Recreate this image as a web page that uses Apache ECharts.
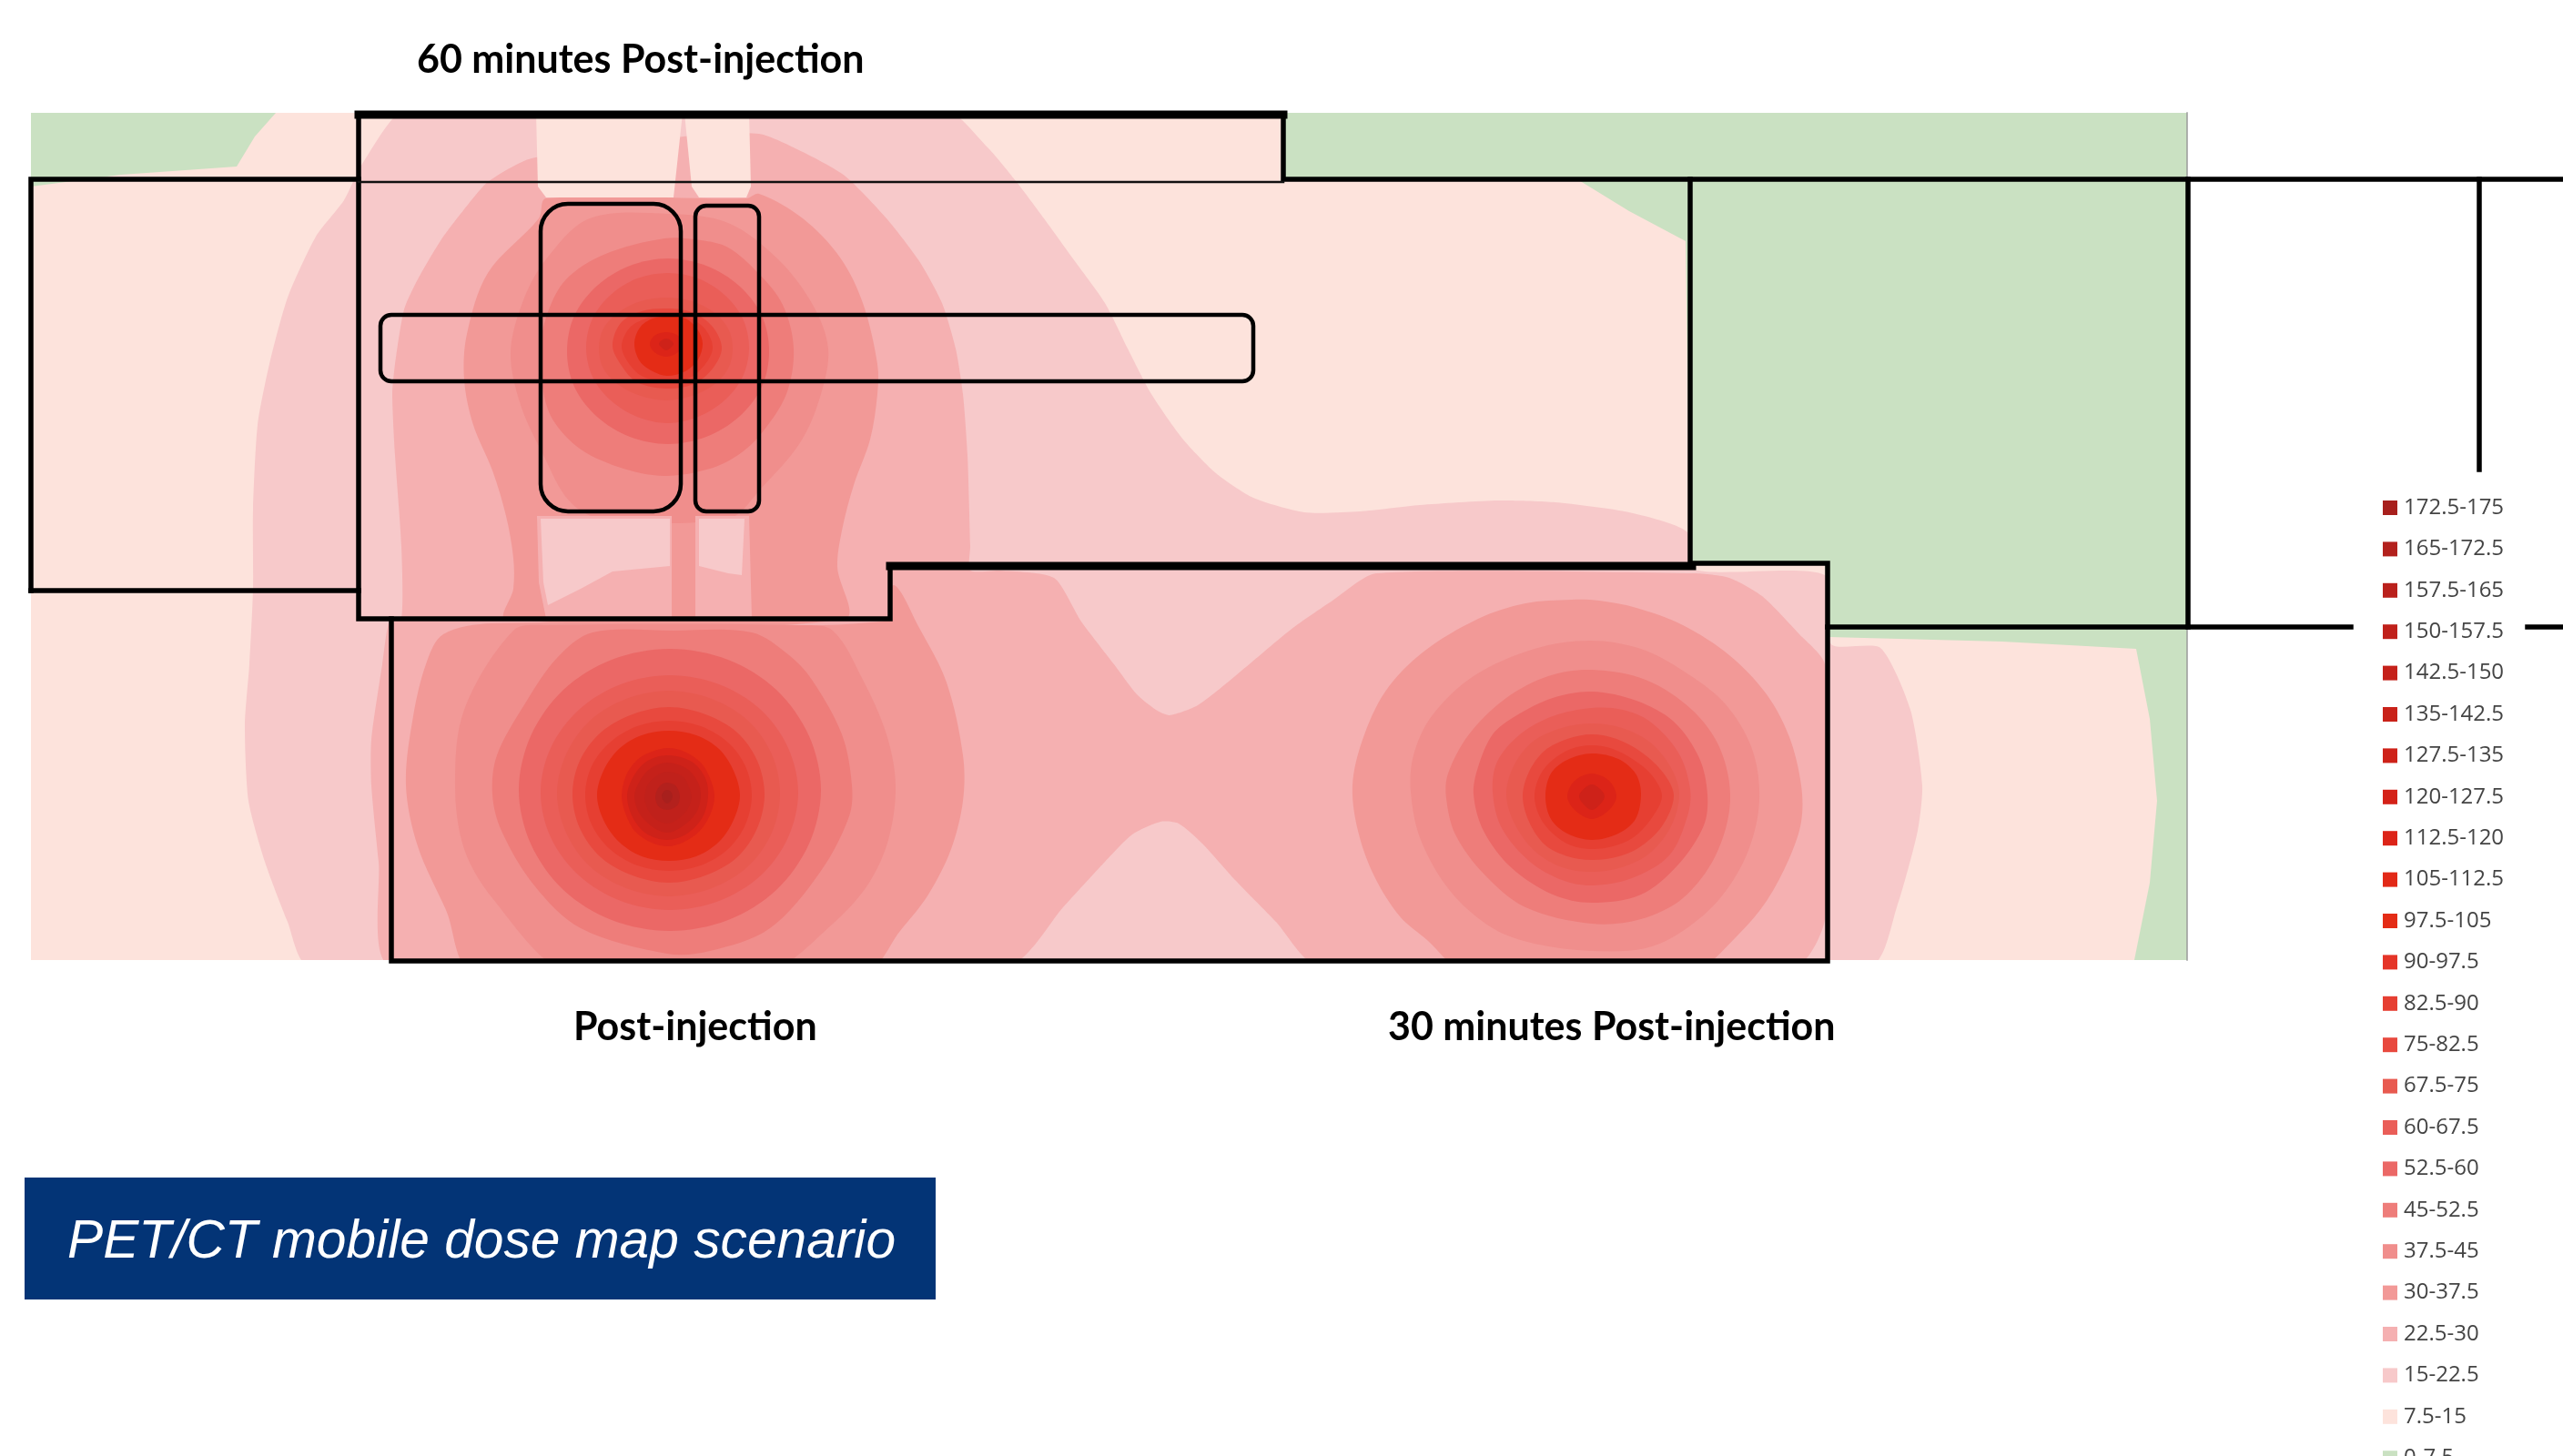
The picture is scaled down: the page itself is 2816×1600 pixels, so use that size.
<!DOCTYPE html>
<html><head><meta charset="utf-8">
<style>html,body{margin:0;padding:0;background:#fff}#c{width:2816px;height:1600px}</style>
<script src="https://cdn.jsdelivr.net/npm/echarts@6/dist/echarts.min.js"></script>
</head><body><div id="c"></div>
<script>
// Dose bands, lowest to highest (legend lists them highest first)
const bandLabels = ['0-7.5','7.5-15','15-22.5','22.5-30','30-37.5','37.5-45','45-52.5','52.5-60','60-67.5','67.5-75','75-82.5','82.5-90','90-97.5','97.5-105','105-112.5','112.5-120','120-127.5','127.5-135','135-142.5','142.5-150','150-157.5','157.5-165','165-172.5','172.5-175'];
const bandColors = ['#CAE1C2','#FDE3DC','#F7C9CA','#F5B0B1','#F29997','#F08E8C','#EE7D7A','#EB6866','#EA5E58','#E85A50','#E8493E','#E63F32','#E53528','#E42C16','#E22917','#DC2418','#D42218','#CE2219','#C92219','#C5211A','#C0211B','#BA211C','#B3211D','#A8201D'];

// Contour outlines, per band, in map units
const mapExtent = [[34,124],[2403,1055]];
const band0 = [[[34,124],[2403,124],[2403,1055],[34,1055]]];
const band1 = [[[303,124],[1412,124],[1412,197],[1733,197],[1790,232],[1852,265],[1857,620],[2005,620],[2010,700],[2200,705],[2347,713],[2362,790],[2370,880],[2362,970],[2345,1055],[34,1055],[34,205],[133,192],[260,183],[280,150]]];
const band2 = [[[449,118],[398,180],[378,220],[347,260],[316,327],[296,400],[283,467],[278,560],[278,647],[274,730],[269,797],[273,880],[291,947],[316,1013],[338,1060],[2056,1060],[2084,997],[2107,913],[2112,863],[2099,780],[2066,712],[2012,708],[2005,632],[1862,626],[1853,584],[1790,563],[1709,552],[1646,550],[1560,555],[1494,562],[1433,563],[1377,547],[1336,520],[1300,483],[1265,433],[1239,383],[1214,333],[1178,283],[1147,240],[1117,200],[1086,163],[1035,118]]];
const band3 = [[[584,174],[536,200],[510,230],[485,263],[459,307],[444,340],[434,400],[431,433],[434,500],[441,600],[441,680],[428,682],[420,730],[408,813],[408,863],[416,947],[428,1060],[1110,1060],[1168,997],[1214,947],[1244,917],[1275,903],[1295,905],[1321,927],[1357,967],[1402,1013],[1446,1060],[1975,1060],[2005,1010],[2005,730],[1977,697],[1936,655],[1900,635],[1862,630],[1512,630],[1464,660],[1418,692],[1357,743],[1316,775],[1285,786],[1270,780],[1249,763],[1224,730],[1188,683],[1158,635],[1099,627],[1066,627],[1066,600],[1063,500],[1058,433],[1050,383],[1035,333],[1010,287],[974,240],[928,193],[882,167],[834,147],[751,150]]];
const band4 = [
 [[592,240],[536,300],[513,367],[510,417],[520,467],[541,517],[556,567],[564,613],[564,647],[556,680],[928,680],[920,623],[925,583],[938,533],[956,483],[964,433],[964,400],[948,333],[923,283],[882,240],[834,213],[820,218],[600,218]],
 [[487,697],[541,685],[969,683],[982,643],[1010,690],[1040,750],[1058,830],[1058,880],[1045,933],[1020,983],[989,1023],[950,1070],[740,1100],[520,1070],[490,1000],[459,930],[446,863],[454,787],[469,727]],
 [[1727,659],[1676,663],[1624,680],[1563,717],[1522,760],[1497,813],[1486,863],[1492,913],[1510,963],[1538,1007],[1568,1033],[1610,1070],[1740,1100],[1860,1070],[1910,1027],[1941,990],[1966,943],[1979,903],[1979,863],[1966,810],[1941,763],[1900,720],[1849,687],[1798,668],[1757,660]]
];
const band5 = [
 [[735,235],[800,245],[855,285],[893,335],[910,383],[902,433],[880,485],[836,537],[800,570],[660,570],[625,550],[597,500],[572,445],[561,387],[575,330],[600,285],[648,240]],
 [[564,693],[510,780],[500,863],[510,933],[541,987],[620,1070],[733,1095],[845,1070],[913,1017],[953,973],[976,923],[984,863],[974,807],[948,747],[915,693],[880,687],[600,687]],
 [[1747,704],[1686,713],[1619,743],[1573,787],[1553,830],[1550,870],[1561,923],[1594,980],[1640,1020],[1686,1037],[1749,1045],[1808,1042],[1849,1023],[1890,987],[1920,937],[1933,880],[1925,823],[1895,773],[1849,737],[1803,713]]
];
const band6 = [
 [[730,262],[770,264],[800,272],[833,300],[860,335],[872,383],[864,433],[836,477],[811,500],[780,515],[730,523],[679,513],[633,490],[602,450],[594,383],[602,343],[622,307],[663,280]],
 [[651,695],[612,723],[577,773],[546,830],[541,873],[551,913],[587,973],[638,1020],[733,1048],[780,1045],[846,1020],[902,957],[933,897],[936,863],[925,807],[892,747],[867,720],[826,695],[740,693]],
 [[1749,736],[1701,743],[1655,767],[1614,807],[1591,850],[1589,877],[1599,917],[1630,960],[1676,997],[1749,1015],[1803,1010],[1849,987],[1885,940],[1901,880],[1890,823],[1859,780],[1808,747]]
];
const band7 = [
 [[845,386],[837,425],[812,458],[776,480],[734,488],[692,480],[656,458],[631,425],[623,386],[631,347],[656,314],[692,292],[734,284],[776,292],[812,314],[837,347]],
 [[902,868],[889,927],[853,978],[800,1011],[736,1023],[672,1011],[619,978],[583,927],[570,868],[583,809],[619,758],[672,725],[736,713],[800,725],[853,758],[889,809]],
 [[1749,760],[1706,767],[1665,787],[1640,807],[1624,843],[1619,873],[1630,913],[1660,953],[1706,983],[1749,992],[1803,983],[1844,950],[1872,907],[1876,873],[1867,833],[1839,793],[1798,770]]
];
const band8 = [
 [[823,382],[816,414],[796,440],[767,458],[734,465],[700,458],[671,440],[651,414],[644,382],[651,350],[671,324],[700,306],[734,300],[767,306],[796,324],[816,350]],
 [[877,871],[866,920],[836,962],[790,990],[736,1000],[682,990],[636,962],[605,920],[594,871],[605,822],[636,780],[682,752],[736,742],[790,752],[836,780],[866,822]],
 [[1749,778],[1706,787],[1670,807],[1645,837],[1640,870],[1650,910],[1681,947],[1716,967],[1749,973],[1793,965],[1834,940],[1854,897],[1857,867],[1844,827],[1813,793],[1783,780]]
];
const band9 = [
 [[805,383],[800,405],[784,423],[760,435],[732,440],[704,435],[680,423],[663,405],[658,383],[663,361],[680,343],[704,331],[732,327],[760,331],[784,343],[800,361]],
 [[857,872],[848,915],[822,952],[782,976],[735,985],[688,976],[648,952],[622,915],[612,872],[622,829],[648,792],[688,768],[735,759],[782,768],[822,792],[848,829]],
 [[1845,872],[1836,908],[1812,938],[1782,953],[1749,958],[1716,953],[1686,935],[1664,905],[1655,873],[1663,842],[1684,815],[1716,800],[1749,795],[1782,800],[1812,815],[1835,842]]
];
const band10 = [
 [[793,382],[783,405],[762,422],[733,427],[700,420],[683,402],[673,380],[682,355],[705,342],[733,339],[760,343],[782,358]],
 [[840,873],[832,910],[810,942],[775,962],[735,970],[695,962],[660,942],[637,910],[629,873],[637,836],[660,805],[695,785],[735,777],[775,785],[810,805],[832,836]],
 [[1839,875],[1826,908],[1800,932],[1775,942],[1749,945],[1722,941],[1697,928],[1680,903],[1673,875],[1680,848],[1697,825],[1722,812],[1749,807],[1776,812],[1804,827],[1828,850]]
];
const band11 = [
 [[783,382],[775,400],[758,415],[733,420],[705,413],[690,398],[683,380],[692,360],[710,350],[733,345],[758,350],[775,362]],
 [[826,874],[819,906],[800,933],[770,951],[735,957],[700,951],[670,933],[650,906],[643,874],[650,842],[670,816],[700,798],[735,792],[770,798],[800,816],[819,842]],
 [[1826,875],[1814,900],[1795,920],[1772,930],[1749,933],[1726,929],[1706,916],[1692,898],[1686,875],[1692,852],[1706,835],[1726,823],[1749,819],[1772,823],[1795,835],[1815,852]]
];
const band13 = [
 [[772,378],[767,395],[753,408],[733,413],[717,408],[703,397],[697,378],[703,360],[717,350],[733,348],[753,350],[767,363]],
 [[813,874],[806,901],[790,925],[765,941],[735,946],[705,941],[680,925],[663,901],[656,874],[663,847],[680,823],[705,808],[735,803],[765,808],[790,823],[806,847]],
 [[1803,872],[1797,900],[1778,916],[1749,923],[1722,916],[1704,900],[1698,875],[1704,850],[1722,835],[1749,828],[1778,834],[1797,850]]
];
const band15 = [
 [[750,378],[745,387],[732,392],[719,387],[714,378],[719,369],[732,365],[745,369]],
 [[785,875],[780,896],[768,914],[750,926],[734,930],[716,926],[698,914],[688,896],[683,875],[688,852],[700,835],[716,826],[734,822],[752,826],[770,838],[780,855]],
 [[1776,875],[1768,890],[1749,900],[1730,890],[1722,875],[1730,858],[1749,850],[1768,858]]
];
const band17 = [
 [[740,378],[737,382],[732,385],[727,382],[724,378],[727,374],[732,372],[737,374]],
 [[778,875],[772,898],[755,916],[733,923],[710,916],[695,898],[689,875],[695,855],[710,837],[733,830],[760,837],[775,855]],
 [[1763,875],[1758,884],[1749,890],[1740,884],[1735,875],[1740,867],[1749,862],[1758,867]]
];
const band19 = [[[770,875],[765,893],[750,908],[733,915],[716,908],[702,893],[697,875],[702,860],[714,845],[733,838],[755,845],[767,860]]];
const band20 = [[[760,876],[755,890],[745,900],[733,905],[720,900],[712,890],[708,876],[712,862],[722,852],[733,848],[750,853],[757,865]]];
const band22 = [[[747,876],[745,884],[740,888],[733,890],[726,888],[722,884],[720,876],[722,868],[727,862],[733,860],[742,863],[746,870]]];
const band23 = [[[739,875],[737,880],[733,883],[729,880],[727,875],[729,870],[733,868],[737,870]]];

// Shadowed pockets behind the shielding, which sit on top of the rings
const pocketsBand3 = [[[590,567],[738,567],[738,680],[600,680],[592,640]],[[764,567],[823,567],[826,680],[764,680]]];
const pocketsBand2 = [[[594,570],[736,570],[736,622],[673,628],[638,647],[602,665],[597,640]],[[768,570],[818,570],[815,632],[800,630],[768,622]]];
const pocketsBand1 = [[[589,124],[750,124],[740,217],[600,217],[591,205]],[[752,124],[823,124],[825,205],[820,217],[768,217],[760,205]]];

// Walls and shielding, as polylines in map units
const thickWalls = [[[394,126],[1410,126]],[[978,622],[1859,622]]];
const mediumWalls = [
 [[34,649],[34,197],[394,197]],[[394,125],[394,680],[978,680],[978,621]],[[1410,125],[1410,197],[2816,197]],
 [[1857,197],[1857,622]],[[1859,619],[2008,619],[2008,1056],[430,1056],[430,680]],
 [[34,649],[394,649]],[[2008,689],[2404,689],[2404,197]],[[2404,689],[2583,689]],[[2777,689],[2816,689]],[[2724,197],[2724,516]]
];
const thinWalls = [[[394,200],[1410,200]]];
const mapEdges = [[[2403,124],[2403,197]],[[2403,689],[2403,1055]]];
// x0, y0, x1, y1, corner
const shieldRects = [[594,224,748,562,30],[764,226,834,562,12],[418,346,1377,419,12]];

const labelTexts = ['60 minutes Post-injection','Post-injection','30 minutes Post-injection'];
const captionText = 'PET/CT mobile dose map scenario';

const bandPolys = {0:band0,1:band1,2:band2,3:band3,4:band4,5:band5,6:band6,7:band7,8:band8,9:band9,10:band10,11:band11,13:band13,15:band15,17:band17,19:band19,20:band20,22:band22,23:band23};
const bandSmooth = {0:0,1:0,2:0.22,3:0.22};

function polySeries(idx, polys, smooth){
  return {
    type:'custom', name:bandLabels[idx], coordinateSystem:'cartesian2d', silent:true,
    itemStyle:{color:bandColors[idx]},
    encode:{x:0,y:1},
    data:polys.map(p=>p[0]),
    renderItem:(params,api)=>{
      const a=api.coord(mapExtent[0]),b=api.coord(mapExtent[1]);
      return {
        type:'polygon',
        shape:{points:polys[params.dataIndex].map(pt=>api.coord(pt)),smooth:smooth},
        clipPath:{type:'rect',shape:{x:a[0],y:a[1],width:b[0]-a[0],height:b[1]-a[1]}},
        style:{fill:bandColors[idx],stroke:null}
      };
    }
  };
}
function wallSeries(paths,width,color){
  return {
    type:'custom',coordinateSystem:'cartesian2d',silent:true,z:5,
    encode:{x:0,y:1},data:paths.map(p=>p[0]),
    renderItem:(params,api)=>({
      type:'polyline',
      shape:{points:paths[params.dataIndex].map(pt=>api.coord(pt))},
      style:{fill:null,stroke:color,lineWidth:width,lineCap:'square',lineJoin:'miter'}
    })
  };
}
const series=[];
bandLabels.forEach((_,i)=>{
  const s=bandSmooth[i]===undefined?0.33:bandSmooth[i];
  series.push(polySeries(i,bandPolys[i]||[],s));
});
series.push(polySeries(3,pocketsBand3,0));
series.push(polySeries(2,pocketsBand2,0));
series.push(polySeries(1,pocketsBand1,0));
series.push(wallSeries(mapEdges,1.5,'#9a9a9a'),wallSeries(thickWalls,9,'#000'),wallSeries(mediumWalls,5.5,'#000'),wallSeries(thinWalls,2.5,'#111'));
series.push({
  type:'custom',coordinateSystem:'cartesian2d',silent:true,z:6,
  encode:{x:0,y:1},data:shieldRects,
  renderItem:(params,api)=>{
    const a=api.coord([api.value(0),api.value(1)]),b=api.coord([api.value(2),api.value(3)]);
    return {type:'rect',shape:{x:a[0],y:a[1],width:b[0]-a[0],height:b[1]-a[1],r:api.value(4)},
      style:{fill:null,stroke:'#000',lineWidth:4.5}};
  }
});

const chart=echarts.init(document.getElementById('c'),null,{renderer:'canvas'});
chart.setOption({
  animation:false,backgroundColor:'#fff',
  grid:{left:0,right:0,top:0,bottom:0},
  xAxis:{type:'value',min:0,max:2816,show:false},
  yAxis:{type:'value',min:0,max:1600,inverse:true,show:false},
  legend:{
    data:bandLabels.slice().reverse(),orient:'vertical',left:2618,top:546,height:1300,width:190,
    padding:0,itemWidth:16,itemHeight:16,itemGap:21.4,icon:'rect',selectedMode:false,
    itemStyle:{borderWidth:0},
    textStyle:{fontFamily:'Open Sans',fontSize:24,color:'#444',padding:[0,0,0,2]}
  },
  title:[
    {text:labelTexts[0],left:458,top:45,padding:0,textStyle:{fontFamily:'Lato',fontWeight:'bold',fontSize:43,color:'#000'}},
    {text:labelTexts[1],left:630,top:1108,padding:0,textStyle:{fontFamily:'Lato',fontWeight:'bold',fontSize:43,color:'#000'}},
    {text:labelTexts[2],left:1525,top:1108,padding:0,textStyle:{fontFamily:'Lato',fontWeight:'bold',fontSize:43,color:'#000'}}
  ],
  graphic:[
    {type:'rect',left:27,top:1294,z:10,shape:{width:1001,height:134},style:{fill:'#033476'}},
    {type:'text',left:74,top:1336,z:11,style:{text:captionText,fill:'#fff',font:'italic 58.7px "Liberation Sans"'}}
  ],
  series:series
});
</script></body></html>
